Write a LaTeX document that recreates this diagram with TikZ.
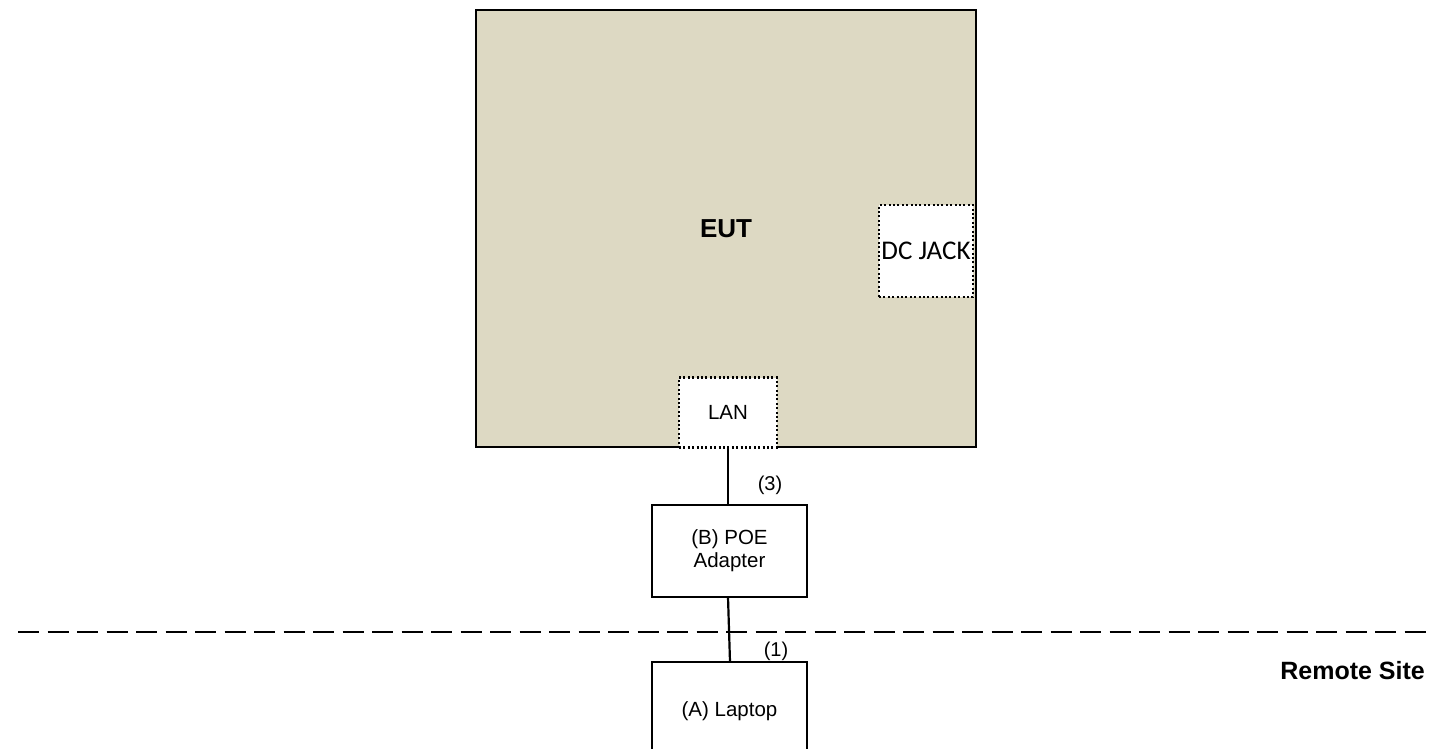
\documentclass[tikz,border=0pt]{standalone}
\usepackage{fontspec}
\setmainfont{Liberation Sans}
\newfontfamily\calibrifont{Carlito}
\definecolor{euttan}{RGB}{221,217,195}
\begin{document}
\begin{tikzpicture}[x=1pt,y=-1pt,
  boxsolid/.style={draw=black, line width=2.2pt, inner sep=0pt, outer sep=0pt, align=center},
  boxdot/.style={draw=black, fill=white, line width=2.2pt, dash pattern=on 2pt off 2.4pt, inner sep=0pt, outer sep=0pt, align=center},
  txt/.style={font=\fontsize{20}{23}\selectfont, inner sep=0pt},
  wire/.style={line width=2.2pt}]
\clip (0,0) rectangle (1432,749);
\fill[white] (0,0) rectangle (1432,749);
% EUT
\node[boxsolid, fill=euttan, minimum width=500pt, minimum height=437pt, font=\fontsize{26}{30}\selectfont\bfseries] (eut) at (726,228.5) {EUT};
\node[boxdot, minimum width=94pt, minimum height=92pt, font=\calibrifont\fontsize{27}{30}\selectfont] (dc) at (926,251) {DC JACK};
\node[boxdot, minimum width=98pt, minimum height=70pt, font=\fontsize{20.5}{23}\selectfont] (lan) at (728,412.5) {LAN};
% POE adapter
\node[boxsolid, fill=white, minimum width=155pt, minimum height=92pt, font=\fontsize{20.5}{23}\selectfont] (poe) at (729.5,551) {(B) POE\\Adapter};
% Laptop
\node[boxsolid, fill=white, minimum width=155pt, minimum height=98pt, font=\fontsize{20.5}{23}\selectfont] (laptop) at (729.5,711) {(A) Laptop};
% connectors
\draw[wire] (lan.south -| 728,0) -- (poe.north -| 728,0);
\draw[wire] (poe.south -| 728,0) -- (laptop.north -| 730,0);
% labels
\node[txt] (l3) at (770,485) {(3)};
\node[txt] (l1) at (776,651) {(1)};
% dashed separator
\coordinate (dl) at (18,632);
\coordinate (dr) at (1432,632);
\draw[line width=2.2pt, dash pattern=on 21pt off 8.5pt] (dl) -- (dr);
\node[txt, font=\fontsize{25}{29}\selectfont\bfseries, anchor=east] (remote) at (1425,671) {Remote Site};
\end{tikzpicture}
\end{document}
